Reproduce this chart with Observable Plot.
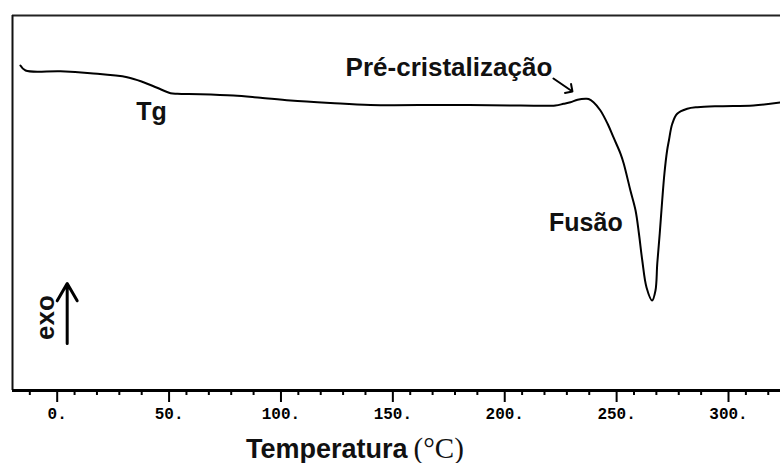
<!DOCTYPE html>
<html>
<head>
<meta charset="utf-8">
<script src="https://cdn.jsdelivr.net/npm/d3@7"></script>
<script src="https://cdn.jsdelivr.net/npm/@observablehq/plot@0.6"></script>
<style>
  html, body { margin: 0; padding: 0; background: #fff; }
  #chart svg { display: block; }
</style>
</head>
<body>
<div id="chart"></div>
<script>
// DSC curve (temperature in °C, heat flow in arbitrary units, exo up)
const temperature = [-14.2, -11.9, 3.7, 17.1, 33.5, 40.8, 46.9, 52.9, 55.9, 66.2, 81.0, 93.1, 106.5, 124.4, 142.2, 178.0, 209.3, 224.9, 228.5, 231.6, 234.8, 238.3, 239.7, 241.9, 245.0, 248.2, 250.8, 254.0, 255.4, 258.4, 260.7, 262.2, 263.7, 265.6, 268.1, 269.6, 270.4, 271.5, 272.6, 273.6, 274.8, 275.6, 277.1, 279.3, 283.8, 288.3, 298.7, 313.4, 325.5];
const heatFlow    = [325, 320, 319.3, 317.3, 313.3, 308.3, 302.7, 297.3, 296.7, 296.3, 295, 292.7, 290, 287.5, 285.5, 285.5, 285, 285, 286.7, 288.3, 290.7, 291.7, 291.5, 288.3, 280, 266.7, 253.3, 236.7, 227, 200, 180, 157, 130, 103, 90, 100, 127, 157, 190, 217, 240, 250, 266.7, 276.7, 281.7, 283.3, 284.3, 285, 288];

// axes
const xDomain = [-17.74, 325.47];
const yDomain = [0, 375];
const majorTicks = [0, 50, 100, 150, 200, 250, 300];
const minorTicks = [-10, 10, 20, 30, 40, 60, 70, 80, 90, 110, 120, 130, 140, 160, 170, 180, 190, 210, 220, 230, 240, 260, 270, 280, 290, 310, 320];

// annotations
const annotationText = ["Tg", "Pré-cristalização", "Fusão"];
const annotationX = [44.4, 177.3, 238.5];
const annotationY = [271, 315, 160];
const annotationSize = [25, 26, 25];
const exoLabel = "exo";
const exoLabelX = 0.6, exoLabelY = 73;
const exoArrow = {x: 6.7, y1: 47, y2: 107};
const preArrow = {x1: 224.0, y1: 312, x2: 232.5, y2: 299};
const xTitleMain = "Temperatura";
const xTitleUnit = "(°C)";
const xTitleX = [158.8, 161.5];
const xTitleY = -67;

const curve = temperature.map((t, i) => ({t, q: heatFlow[i]}));
const labels = annotationText.map((s, i) => ({s, x: annotationX[i], y: annotationY[i], size: annotationSize[i]}));

const sans = "'Liberation Sans', Arial, sans-serif";

const chart = Plot.plot({
  width: 780,
  height: 463,
  marginLeft: 12,
  marginRight: 0,
  marginTop: 15,
  marginBottom: 73,
  style: {background: "#fff", overflow: "visible", color: "#000"},
  x: {domain: xDomain, axis: null},
  y: {domain: yDomain, axis: null},
  marks: [
    // frame (top, left, bottom)
    Plot.ruleY([yDomain[1]], {stroke: "#222", strokeWidth: 2.2}),
    Plot.ruleX([xDomain[0]], {stroke: "#111", strokeWidth: 2}),
    // minor ticks
    Plot.axisX({ticks: minorTicks, tickSize: 5, strokeWidth: 2, text: null, anchor: "bottom"}),
    // major ticks + labels
    Plot.axisX({
      ticks: majorTicks, tickSize: 12, strokeWidth: 2, tickPadding: 5, anchor: "bottom",
      tickFormat: d => d + ".",
      fontFamily: "'Liberation Mono', 'DejaVu Sans Mono', monospace",
      fontWeight: "bold", fontSize: 16, dx: 5, label: null,
      style: {letterSpacing: "0.5px"}
    }),
    Plot.ruleY([yDomain[0]], {stroke: "#000", strokeWidth: 3}),
    // DSC curve
    Plot.line(curve, {x: "t", y: "q", stroke: "#000", strokeWidth: 2, curve: "catmull-rom"}),
    // annotations
    Plot.text(labels, {x: "x", y: "y", text: "s", textAnchor: "middle", lineAnchor: "bottom",
      fontFamily: sans, fontWeight: "bold", fontSize: "size", fill: "#111"}),
    Plot.text([exoLabel], {x: () => exoLabelX, y: () => exoLabelY, text: d => d, rotate: -90,
      textAnchor: "middle", lineAnchor: "bottom", fontFamily: sans, fontWeight: "bold", fontSize: 26, fill: "#111"}),
    Plot.arrow([exoArrow], {x: "x", y1: "y1", y2: "y2", stroke: "#000", strokeWidth: 3,
      headLength: 20, headAngle: 60}),
    Plot.arrow([preArrow], {x1: "x1", y1: "y1", x2: "x2", y2: "y2", stroke: "#000", strokeWidth: 2,
      headLength: 11, headAngle: 90}),
    // x title
    Plot.text([xTitleMain], {x: () => xTitleX[0], y: () => xTitleY, text: d => d, textAnchor: "end",
      lineAnchor: "bottom", fontFamily: sans, fontWeight: "bold", fontSize: 27, fill: "#111"}),
    Plot.text([xTitleUnit], {x: () => xTitleX[1], y: () => xTitleY, text: d => d, textAnchor: "start",
      lineAnchor: "bottom", fontFamily: "'Liberation Serif', 'Times New Roman', serif", fontSize: 29, fill: "#111"})
  ]
});
document.getElementById("chart").appendChild(chart);
</script>
</body>
</html>
